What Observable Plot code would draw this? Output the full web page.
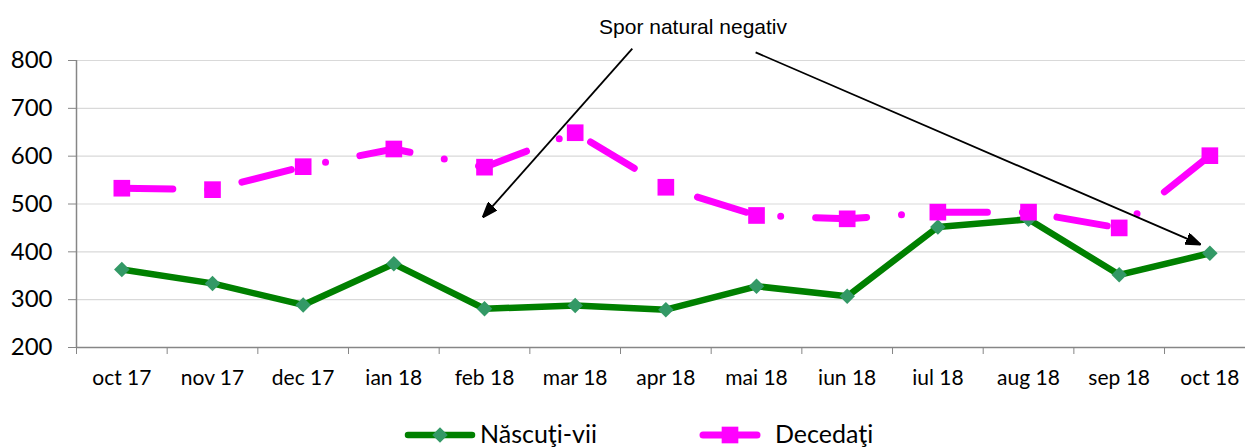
<!DOCTYPE html>
<html>
<head>
<meta charset="utf-8">
<script src="https://cdn.jsdelivr.net/npm/d3@7"></script>
<script src="https://cdn.jsdelivr.net/npm/@observablehq/plot@0.6"></script>
<style>
  html, body { margin: 0; padding: 0; background: #fff; }
  #chart { width: 1245px; height: 447px; position: relative; overflow: hidden; }
  #legend { position: absolute; left: 0; top: 400px; width: 1245px; height: 47px; font-family: Lato, sans-serif; font-size: 25px; }
</style>
</head>
<body>
<div id="chart"></div>
<script>
// ---- data ----
const months = ["oct 17","nov 17","dec 17","ian 18","feb 18","mar 18","apr 18","mai 18","iun 18","iul 18","aug 18","sep 18","oct 18"];
const nascuti = [363, 334, 289, 375, 281, 288, 279, 328, 307, 452, 468, 352, 397];
const decedati = [533, 530, 578, 615, 577, 649, 535, 476, 469, 483, 483, 450, 601];
const seriesNames = ["Născuţi-vii", "Decedaţi"];
const yTicks = [200, 300, 400, 500, 600, 700, 800];
const annotationText = "Spor natural negativ";
// annotation arrows in (month index, value) units
const arrowFromX = [5.63, 6.99];
const arrowFromY = [825, 817];
const arrowToX = [3.98, 11.90];
const arrowToY = [472, 415];
const annotationX = [6.30];
const annotationY = [869];

const green = "#008000", greenMarker = "#339966", magenta = "#ff00ff";

const rowsN = months.map((m, i) => ({i, m, v: nascuti[i]}));
const rowsD = months.map((m, i) => ({i, m, v: decedati[i]}));
const arrows = arrowFromX.map((x, k) => ({x1: x, y1: arrowFromY[k], x2: arrowToX[k], y2: arrowToY[k]}));
const labels = annotationX.map((x, k) => ({x, y: annotationY[k], t: annotationText}));

function filledArrow(color, context) {
  const m = d3.create("svg:marker")
    .attr("viewBox", "-15 -6 15 12")
    .attr("markerWidth", 15)
    .attr("markerHeight", 12)
    .attr("markerUnits", "userSpaceOnUse")
    .attr("refX", 0).attr("refY", 0)
    .attr("orient", "auto");
  m.append("path").attr("d", "M0,0L-15,-5.5L-15,5.5Z").attr("fill", "#000");
  return m.node();
}

const W = 1245;
const plot = Plot.plot({
  width: W,
  height: 400,
  marginLeft: 76,
  marginRight: W - 1254.7,
  marginTop: 60,
  marginBottom: 53,
  style: {fontFamily: "Lato, sans-serif", fontSize: "21px", color: "#000", background: "#fff"},
  x: {type: "linear", domain: [-0.5, 12.5]},
  y: {domain: [200, 800]},
  marks: [
    Plot.gridY(yTicks.slice(1), {stroke: "#d9d9d9", strokeOpacity: 1, strokeWidth: 1.2}),
    Plot.ruleY([200], {stroke: "#868686", strokeWidth: 1.5}),
    Plot.ruleX([-0.5], {y1: 200, y2: 800, stroke: "#868686", strokeWidth: 1.5}),
    Plot.axisY({ticks: yTicks, tickSize: 8, tickPadding: 16, stroke: "#868686", fontSize: 24, label: null, tickFormat: d => d}),
    Plot.axisX({ticks: d3.range(-0.5, 13, 1), tickSize: 7, stroke: "#868686", tickFormat: () => "", label: null}),
    Plot.axisX({ticks: d3.range(0, 13), tickSize: 0, tickPadding: 23, tickFormat: i => months[i], label: null, fontSize: 21}),
    Plot.line(rowsN, {x: "i", y: "v", stroke: green, strokeWidth: 6.5, strokeLinejoin: "round"}),
    Plot.dot(rowsN, {x: "i", y: "v", symbol: "diamond2", r: 7, fill: greenMarker, stroke: null}),
    Plot.line(rowsD, {x: "i", y: "v", stroke: magenta, strokeWidth: 7, strokeLinecap: "round", strokeLinejoin: "round", strokeDasharray: "51,35,0,35"}),
    Plot.dot(rowsD, {x: "i", y: "v", symbol: "square", r: 9.4, fill: magenta, stroke: null}),
    Plot.link(arrows, {x1: "x1", y1: "y1", x2: "x2", y2: "y2", stroke: "#000", strokeWidth: 1.8, markerEnd: filledArrow}),
    Plot.text(labels, {x: "x", y: "y", text: "t", fontFamily: "'Liberation Sans', Arial, sans-serif", fontSize: 21, fill: "#000"})
  ]
});
document.getElementById("chart").appendChild(plot);

// legend
const legend = d3.select("#chart").append("div").attr("id", "legend");
const lsvg = legend.append("svg").attr("width", W).attr("height", 47).style("position", "absolute").style("left", 0).style("top", 0);
// Născuţi-vii swatch
lsvg.append("line").attr("x1", 408).attr("x2", 472).attr("y1", 35).attr("y2", 35)
  .attr("stroke", green).attr("stroke-width", 6.5).attr("stroke-linecap", "round");
lsvg.append("path").attr("d", d3.symbol(d3.symbolDiamond2, Math.PI * 7 * 7)()).attr("transform", "translate(440,35)").attr("fill", greenMarker);
lsvg.append("text").attr("x", 480).attr("y", 43).text(seriesNames[0]).attr("font-family", "Lato, sans-serif").attr("font-size", 25).attr("fill", "#000");
// Decedaţi swatch
lsvg.append("line").attr("x1", 703).attr("x2", 757).attr("y1", 35).attr("y2", 35)
  .attr("stroke", magenta).attr("stroke-width", 7).attr("stroke-linecap", "round");
lsvg.append("path").attr("d", d3.symbol(d3.symbolSquare, Math.PI * 9.4 * 9.4)()).attr("transform", "translate(730,35)").attr("fill", magenta);
lsvg.append("text").attr("x", 775).attr("y", 43).text(seriesNames[1]).attr("font-family", "Lato, sans-serif").attr("font-size", 25).attr("fill", "#000");
</script>
</body>
</html>
